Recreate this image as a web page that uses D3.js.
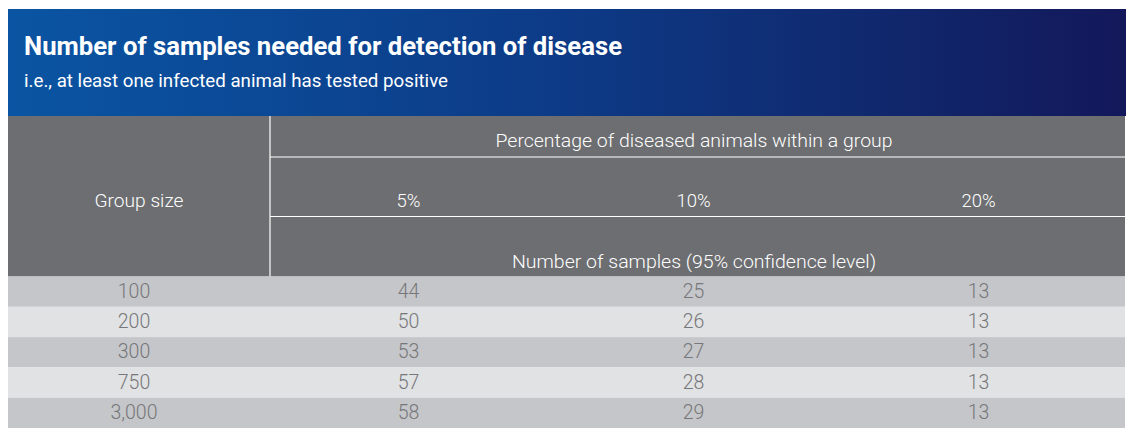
<!DOCTYPE html>
<html><head><meta charset="utf-8">
<script src="https://cdn.jsdelivr.net/npm/d3@7"></script>
<style>html,body{margin:0;padding:0;background:#fff}svg{display:block}</style>
</head><body>
<svg id="chart" width="1135" height="436"></svg>
<script>
const title = "Number of samples needed for detection of disease";
const subtitle = "i.e., at least one infected animal has tested positive";
const rowHeader = "Group size";
const topHeader = "Percentage of diseased animals within a group";
const bottomHeader = "Number of samples (95% confidence level)";
const percentLabels = ["5%", "10%", "20%"];
const groupSizes = ["100", "200", "300", "750", "3,000"];
const samples5 = [44, 50, 53, 57, 58];
const samples10 = [25, 26, 27, 28, 29];
const samples20 = [13, 13, 13, 13, 13];

const svg = d3.select("#chart");
const L = 8, R = 1126, bannerTop = 9, bannerBot = 116, headBot = 276.5, tableBot = 428;
const splitX = 270;
const font = "Roboto, 'Open Sans', sans-serif";

const defs = svg.append("defs");
const grad = defs.append("linearGradient").attr("id", "bg").attr("x1", 0).attr("x2", 1).attr("y1", 0).attr("y2", 0);
grad.append("stop").attr("offset", "0%").attr("stop-color", "#0a55a3");
grad.append("stop").attr("offset", "50%").attr("stop-color", "#0d3a86");
grad.append("stop").attr("offset", "75%").attr("stop-color", "#102a70");
grad.append("stop").attr("offset", "100%").attr("stop-color", "#13185a");

svg.append("rect").attr("x", L).attr("y", bannerTop).attr("width", R - L).attr("height", bannerBot - bannerTop).attr("fill", "url(#bg)");

function fit(sel, w) {
  const n = sel.node();
  const cur = n.getComputedTextLength();
  if (Math.abs(cur - w) > 2) sel.attr("textLength", w).attr("lengthAdjust", "spacingAndGlyphs");
  return sel;
}

fit(svg.append("text").attr("x", 24).attr("y", 55).attr("fill", "#fff").attr("font-family", font)
  .attr("font-weight", 700).attr("font-size", 25).text(title), 598);
fit(svg.append("text").attr("x", 24).attr("y", 87).attr("fill", "#fff").attr("font-family", font)
  .attr("font-weight", 400).attr("font-size", 18).text(subtitle), 424);

// header block
svg.append("rect").attr("x", L).attr("y", bannerBot).attr("width", R - L - 1).attr("height", headBot - bannerBot).attr("fill", "#6d6e71");

const x = d3.scaleBand().domain(percentLabels).range([splitX, R - 1]);
const y = d3.scaleBand().domain(groupSizes).range([headBot, tableBot]);

const hLines = [157, 216.5];
svg.append("line").attr("x1", splitX).attr("x2", splitX).attr("y1", bannerBot).attr("y2", headBot).attr("stroke", "#fff").attr("stroke-width", 1.2);
hLines.forEach(v => svg.append("line").attr("x1", splitX).attr("x2", R - 1).attr("y1", v).attr("y2", v).attr("stroke", "#fff").attr("stroke-width", 1.2));

const hdr = (t, cx, cy, w) => fit(svg.append("text").attr("x", cx).attr("y", cy).attr("text-anchor", "middle")
  .attr("fill", "#fff").attr("font-family", font).attr("font-weight", 300).attr("font-size", 18).text(t), w);

hdr(topHeader, (splitX + R) / 2 - 4, 147, 397);
hdr(rowHeader, (L + splitX) / 2, 207, 89);
percentLabels.forEach(p => svg.append("text").attr("x", x(p) + x.bandwidth() / 2 - 4).attr("y", 207)
  .attr("text-anchor", "middle").attr("fill", "#fff").attr("font-family", font).attr("font-weight", 300)
  .attr("font-size", 18.5).text(p));
hdr(bottomHeader, (splitX + R) / 2 - 4, 268, 364);

// rows
const rows = groupSizes.map((g, i) => ({ g, vals: [samples5[i], samples10[i], samples20[i]] }));
svg.selectAll("rect.row").data(rows).join("rect").attr("class", "row")
  .attr("x", L).attr("y", d => y(d.g)).attr("width", R - L - 1).attr("height", y.bandwidth())
  .attr("fill", (d, i) => i % 2 === 0 ? "#c5c6c9" : "#e1e2e3");

const txt = svg.append("g").attr("font-family", font).attr("font-weight", 300).attr("font-size", 19.5).attr("fill", "#76777a").attr("text-anchor", "middle");
rows.forEach(d => {
  const cy = y(d.g) + y.bandwidth() / 2 + 6;
  txt.append("text").attr("x", (L + splitX) / 2 - 5).attr("y", cy).text(d.g);
  d.vals.forEach((v, j) => txt.append("text").attr("x", x(percentLabels[j]) + x.bandwidth() / 2 - 4).attr("y", cy).text(v));
});
</script>
</body></html>
